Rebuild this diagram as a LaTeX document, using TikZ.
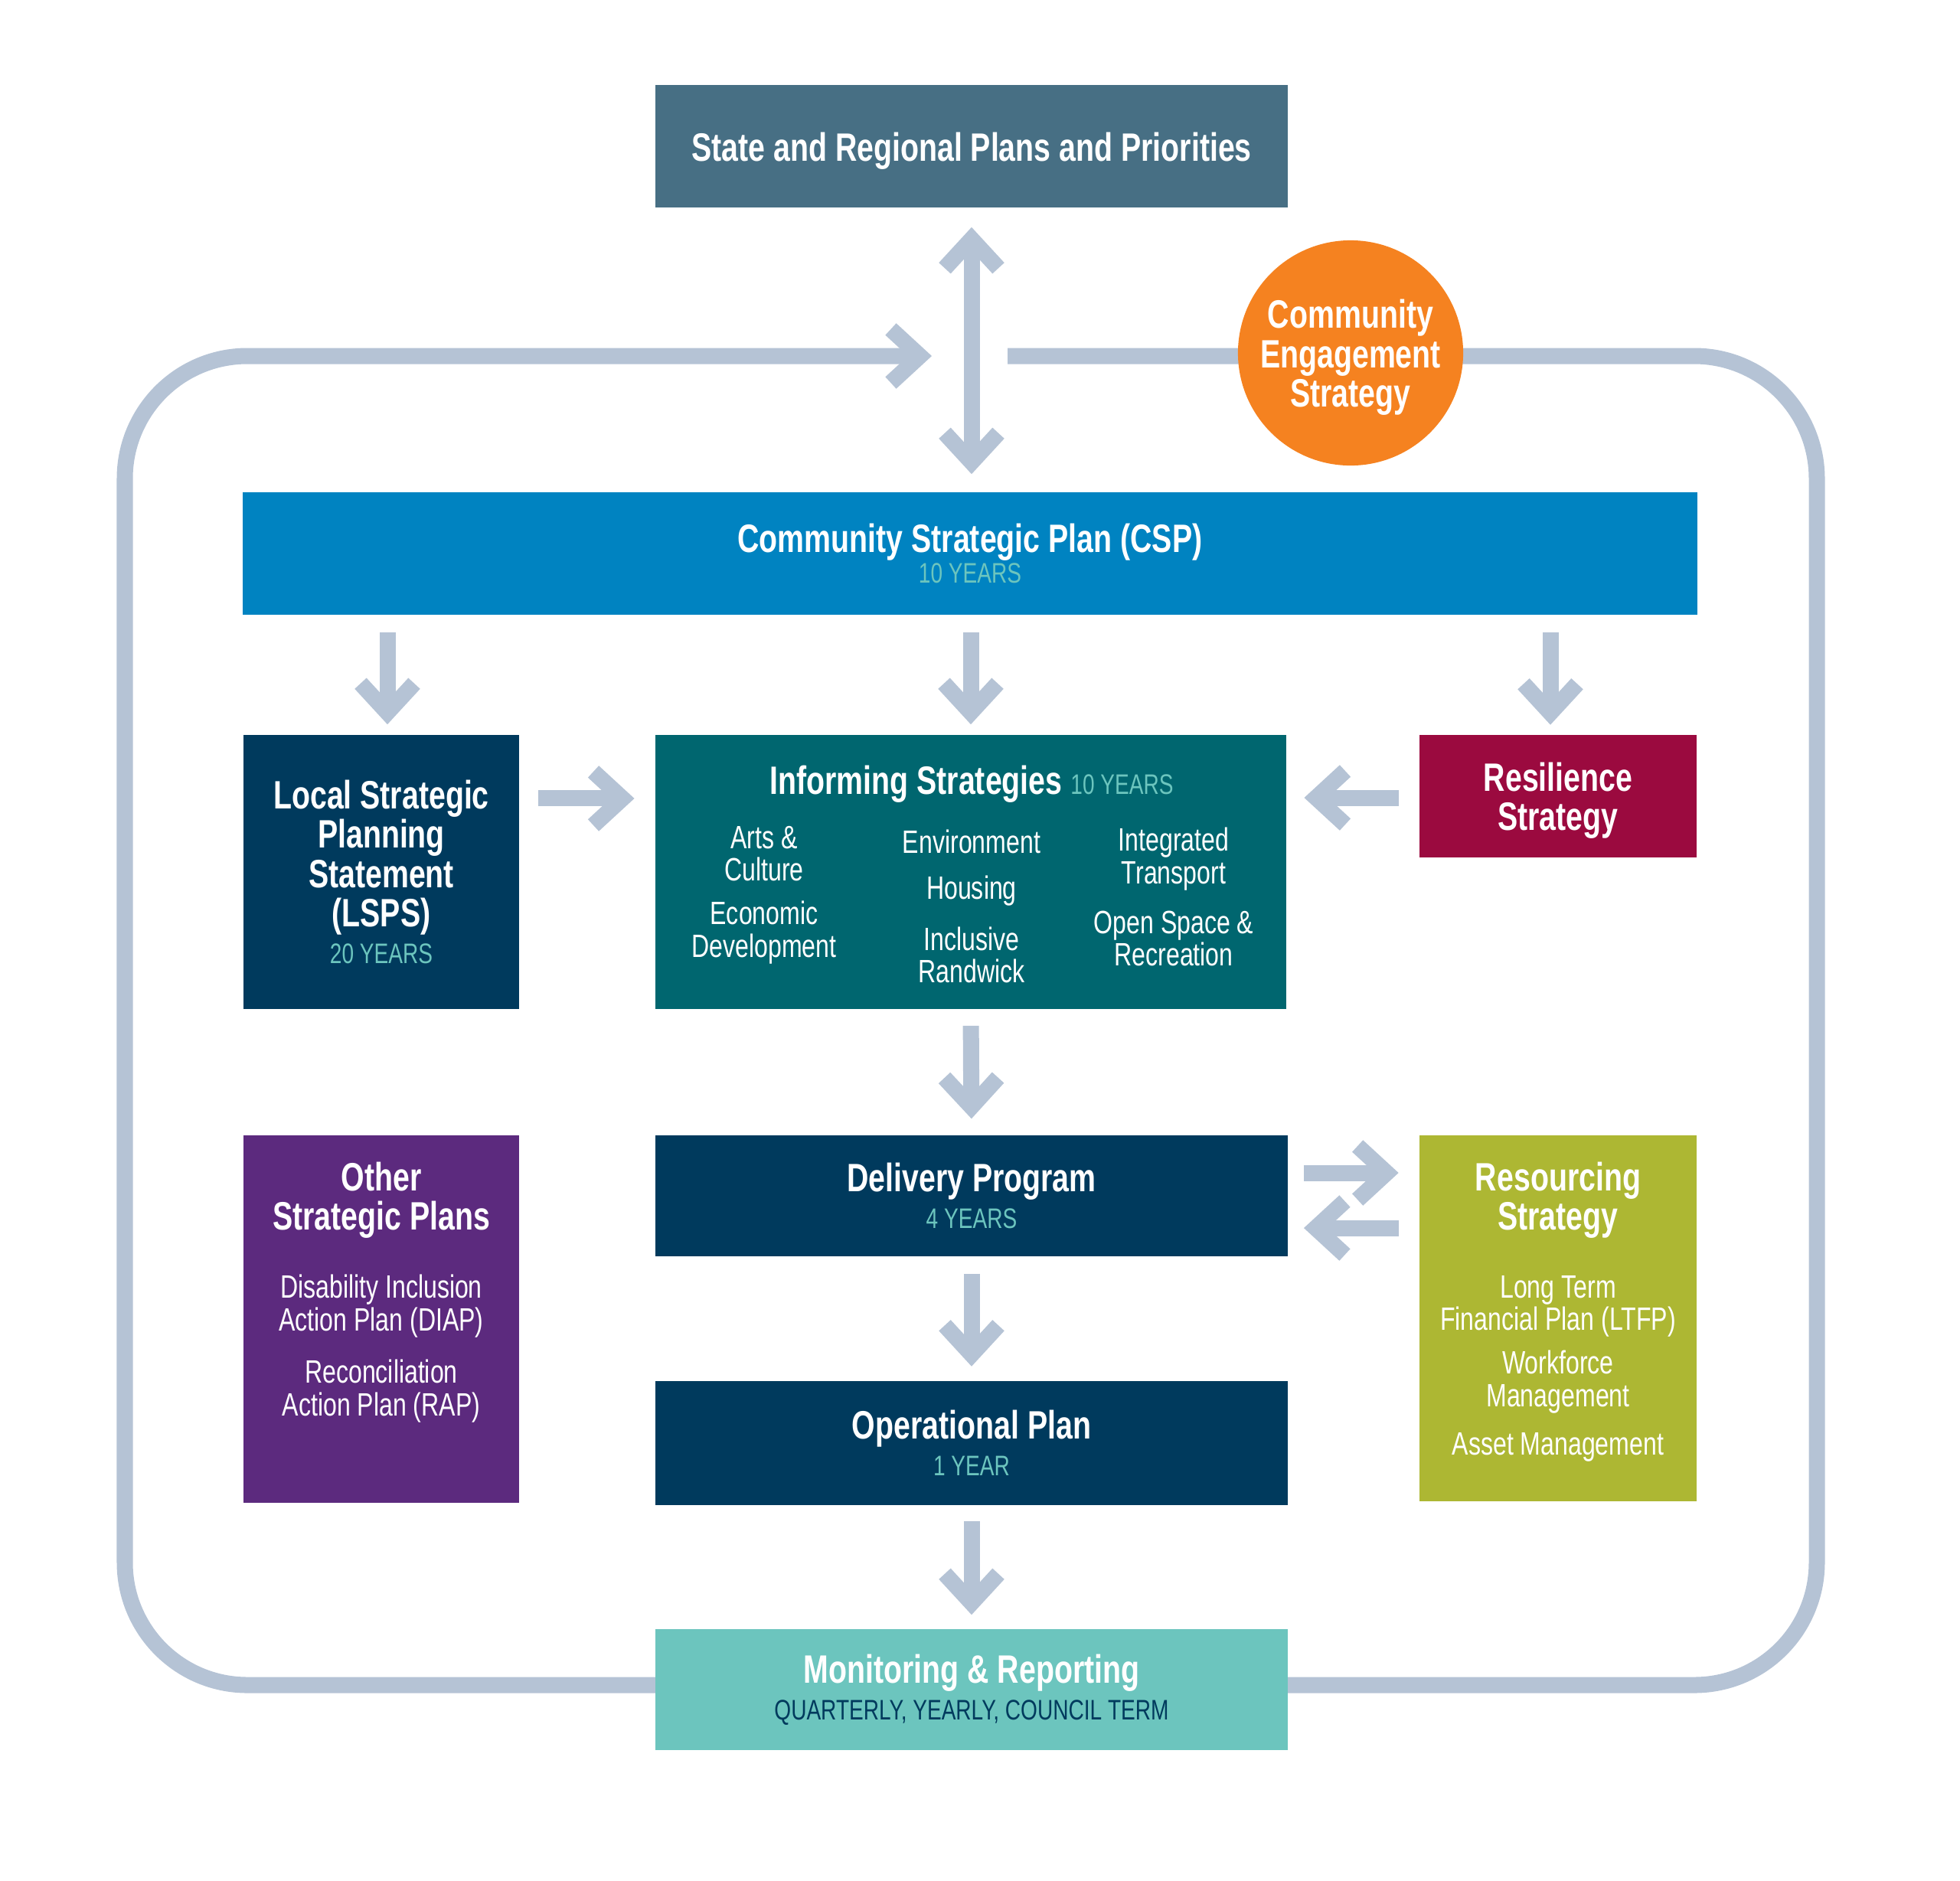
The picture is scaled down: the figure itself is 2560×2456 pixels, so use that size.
\documentclass[tikz,border=0pt]{standalone}
\usepackage{fontspec}
\setmainfont{Liberation Sans}[FakeStretch=0.76]
\setsansfont{Liberation Sans}[FakeStretch=0.76]
\usepackage{tikz}
\usetikzlibrary{arrows.meta,positioning,backgrounds}
\definecolor{stategray}{HTML}{476F84}
\definecolor{cspblue}{HTML}{0083C1}
\definecolor{navy}{HTML}{003A5D}
\definecolor{infteal}{HTML}{00666F}
\definecolor{resred}{HTML}{9B0A3F}
\definecolor{othpurple}{HTML}{5C2A7E}
\definecolor{rsgreen}{HTML}{ADB733}
\definecolor{monteal}{HTML}{6CC5BE}
\definecolor{yrteal}{HTML}{6CC5BE}
\definecolor{ceorange}{HTML}{F58220}
\definecolor{flowc}{HTML}{B5C3D5}
\newcommand{\hdr}{\fontsize{14.7}{14.6}\selectfont\bfseries}
\newcommand{\yrs}{\fontsize{10.5}{11}\selectfont\mdseries\color{yrteal}}

\begin{document}
\begin{tikzpicture}[
  x=0.01cm, y=-0.01cm,
  box/.style={rectangle, inner sep=0pt, align=center, text=white, font=\hdr},
  ttl/.style={font=\hdr, text=white, align=center},
  item/.style={font=\fontsize{12}{12}\selectfont, text=white, align=center},
  flow/.style={line width=0.21cm, color=flowc, -{Straight Barb[length=0.38cm,width=0.7cm]}},
  flowboth/.style={line width=0.21cm, color=flowc, {Straight Barb[length=0.38cm,width=0.7cm]}-{Straight Barb[length=0.38cm,width=0.7cm]}},
]
\useasboundingbox (0,0) rectangle (2560,2456);

% main boxes
\node[box, fill=stategray, minimum width=8.26cm, minimum height=1.6cm] (state) at (1269,191) {\rule{0pt}{14pt}State and Regional Plans and Priorities};
\node[box, circle, fill=ceorange, minimum size=2.94cm] (ces) at (1764,461) {\rule{0pt}{14pt}Community\\Engagement\\Strategy};
\node[box, fill=cspblue, minimum width=18.98cm, minimum height=1.6cm] (csp) at (1267,723) {Community Strategic Plan (CSP)\\[-3pt]{\yrs 10 YEARS}};
\node[box, fill=navy, minimum width=3.6cm, minimum height=3.58cm] (lsps) at (498,1139) {Local Strategic\\Planning\\Statement\\(LSPS)\\[-1pt]{\yrs 20 YEARS}};
\node[box, fill=infteal, minimum width=8.23cm, minimum height=3.58cm] (inf) at (1268,1139) {};
\node[box, fill=resred, minimum width=3.61cm, minimum height=1.59cm] (res) at (2035,1040) {\rule{0pt}{14pt}Resilience\\Strategy};
\node[box, fill=othpurple, minimum width=3.6cm, minimum height=4.8cm] (oth) at (498,1723) {};
\node[box, fill=navy, minimum width=8.26cm, minimum height=1.58cm] (del) at (1269,1562) {Delivery Program\\[-1pt]{\yrs 4 YEARS}};
\node[box, fill=rsgreen, minimum width=3.61cm, minimum height=4.77cm] (rsc) at (2035,1722) {};
\node[box, fill=navy, minimum width=8.26cm, minimum height=1.61cm] (ops) at (1269,1885) {Operational Plan\\[-1pt]{\yrs 1 YEAR}};
\node[box, fill=monteal, minimum width=8.26cm, minimum height=1.58cm] (mon) at (1269,2207) {Monitoring \& Reporting\\[-1pt]{\yrs\color{navy} QUARTERLY, YEARLY, COUNCIL TERM}};

% informing strategies contents
\node[ttl] (inftl) at (1269,1024) {Informing Strategies {\yrs 10 YEARS}};
\node[item] (infarts) at (998,1115) {Arts \&\\Culture};
\node[item] (infecon) at (998,1218) {Economic\\Development};
\node[item] (infenv) at (1269,1099) {Environment};
\node[item] (infhous) at (1269,1164) {Housing};
\node[item] (infincl) at (1269,1247) {Inclusive\\Randwick};
\node[item] (inftrans) at (1533,1122) {Integrated\\Transport};
\node[item] (infopen) at (1533,1226) {Open Space \&\\Recreation};

% other strategic plans contents
\node[ttl] (othtl) at (498,1568) {Other\\Strategic Plans};
\node[item] (othdiap) at (498,1706) {Disability Inclusion\\Action Plan (DIAP)};
\node[item] (othrap) at (498,1817) {Reconciliation\\Action Plan (RAP)};

% resourcing strategy contents
\node[ttl] (rsctl) at (2035,1568) {Resourcing\\Strategy};
\node[item] (rscltfp) at (2035,1706) {Long Term\\Financial Plan (LTFP)};
\node[item] (rscwf) at (2035,1805) {Workforce\\Management};
\node[item] (rscam) at (2035,1890) {Asset Management};

% arrows
\draw[flowboth, shorten <=0.25cm, shorten >=0.23cm] (state.south) -- (state.south |- csp.north);
\draw[flow, shorten <=0.22cm, shorten >=0.13cm] ([xshift=0.08cm]lsps.north |- csp.south) -- ([xshift=0.08cm]lsps.north);
\draw[flow, shorten <=0.22cm, shorten >=0.13cm] (inf.north |- csp.south) -- (inf.north);
\draw[flow, shorten <=0.22cm, shorten >=0.13cm] ([xshift=-0.1cm]res.north |- csp.south) -- ([xshift=-0.1cm]res.north);
\draw[flow, shorten <=0.24cm, shorten >=0.27cm] ([yshift=0.96cm]lsps.east) -- ([yshift=0.96cm]lsps.east -| inf.west);
\draw[flow, shorten <=0.27cm, shorten >=0.23cm] ([yshift=-0.02cm]res.west) -- ([yshift=-0.02cm]res.west -| inf.east);
\draw[flow, shorten <=0.21cm, shorten >=0.21cm] (inf.south) -- (del.north);
\draw[flow, shorten <=0.2cm, shorten >=0.27cm] ([yshift=0.3cm]del.east) -- ([yshift=0.3cm]del.east -| rsc.west);
\draw[flow, shorten <=0.27cm, shorten >=0.2cm] ([yshift=-0.42cm]del.east -| rsc.west) -- ([yshift=-0.42cm]del.east);
\draw[flow, shorten <=0.22cm, shorten >=0.19cm] (del.south) -- (ops.north);
\draw[flow, shorten <=0.21cm, shorten >=0.18cm] (ops.south) -- (mon.north);

% outer loop behind the boxes
\coordinate (loopout) at (1316,465);
\coordinate (loopin) at (1217,465);
\begin{scope}[on background layer]
\draw[flow, rounded corners=1.6cm] (loopout) -- (2373,465) -- (2373,2201) -- (163,2201) -- (163,465) -- (loopin);
\end{scope}

\end{tikzpicture}
\end{document}
